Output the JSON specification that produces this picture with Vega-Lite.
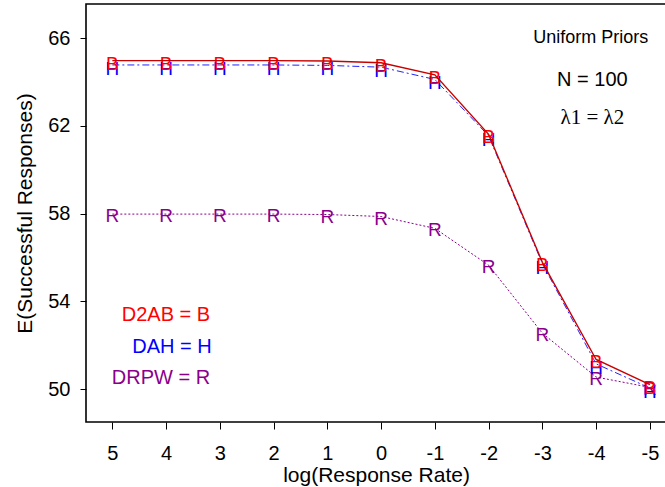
{
  "$schema": "https://vega.github.io/schema/vega-lite/v6.json",
  "autosize": "none",
  "width": 580,
  "height": 418,
  "padding": {"left": 86, "top": 4, "right": 0, "bottom": 65},
  "background": "white",
  "config": {
    "view": {"stroke": "black", "strokeWidth": 1.6},
    "axis": {
      "domain": false, "grid": false,
      "labelFont": "Liberation Sans", "labelFontSize": 20, "labelColor": "black",
      "titleFont": "Liberation Sans", "titleFontSize": 21, "titleFontWeight": "normal", "titleColor": "black",
      "tickColor": "black", "tickWidth": 1
    }
  },
  "datasets": {
    "series": [
      {"rate": 5, "value": 64.98, "s": "B"}, {"rate": 4, "value": 64.98, "s": "B"}, {"rate": 3, "value": 64.98, "s": "B"}, {"rate": 2, "value": 64.98, "s": "B"}, {"rate": 1, "value": 64.96, "s": "B"}, {"rate": 0, "value": 64.88, "s": "B"}, {"rate": -1, "value": 64.33, "s": "B"}, {"rate": -2, "value": 61.62, "s": "B"}, {"rate": -3, "value": 55.78, "s": "B"}, {"rate": -4, "value": 51.35, "s": "B"}, {"rate": -5, "value": 50.2, "s": "B"},
      {"rate": 5, "value": 64.78, "s": "H"}, {"rate": 4, "value": 64.78, "s": "H"}, {"rate": 3, "value": 64.78, "s": "H"}, {"rate": 2, "value": 64.78, "s": "H"}, {"rate": 1, "value": 64.76, "s": "H"}, {"rate": 0, "value": 64.68, "s": "H"}, {"rate": -1, "value": 64.12, "s": "H"}, {"rate": -2, "value": 61.55, "s": "H"}, {"rate": -3, "value": 55.72, "s": "H"}, {"rate": -4, "value": 51.15, "s": "H"}, {"rate": -5, "value": 50.05, "s": "H"},
      {"rate": 5, "value": 57.98, "s": "R"}, {"rate": 4, "value": 57.98, "s": "R"}, {"rate": 3, "value": 57.98, "s": "R"}, {"rate": 2, "value": 57.98, "s": "R"}, {"rate": 1, "value": 57.96, "s": "R"}, {"rate": 0, "value": 57.87, "s": "R"}, {"rate": -1, "value": 57.33, "s": "R"}, {"rate": -2, "value": 55.65, "s": "R"}, {"rate": -3, "value": 52.55, "s": "R"}, {"rate": -4, "value": 50.55, "s": "R"}, {"rate": -5, "value": 50.08, "s": "R"}
    ],
    "notes": [
      {"rate": -3.9, "value": 66.0, "label": "Uniform Priors", "kind": "a"},
      {"rate": -3.93, "value": 64.1, "label": "N = 100", "kind": "b"},
      {"rate": -3.93, "value": 62.37, "label": "λ1 = λ2", "kind": "c"}
    ],
    "legend": [
      {"rate": 3.18, "value": 53.4, "label": "D2AB = B", "s": "B"},
      {"rate": 3.15, "value": 51.94, "label": "DAH = H", "s": "H"},
      {"rate": 3.18, "value": 50.5, "label": "DRPW = R", "s": "R"}
    ]
  },
  "encoding": {
    "x": {"field": "rate", "type": "quantitative",
      "scale": {"domain": [-5.3, 5.49], "reverse": true, "nice": false, "zero": false},
      "axis": {"values": [5, 4, 3, 2, 1, 0, -1, -2, -3, -4, -5], "title": "log(Response Rate)", "tickSize": 7, "labelPadding": 14, "titlePadding": 1, "labelFlush": false,
        "labelExpr": "'' + datum.value"}},
    "y": {"field": "value", "type": "quantitative",
      "scale": {"domain": [48.5, 67.56], "nice": false, "zero": false},
      "axis": {"values": [50, 54, 58, 62, 66], "title": "E(Successful Responses)", "tickSize": 6, "labelPadding": 10, "titlePadding": 12, "labelFlush": false}}
  },
  "layer": [
    {"data": {"name": "series"}, "transform": [{"filter": "datum.s == 'R'"}],
     "mark": {"type": "line", "color": "#8B008B", "strokeWidth": 1, "strokeDash": [2, 2], "clip": true}},
    {"data": {"name": "series"}, "transform": [{"filter": "datum.s == 'R'"}],
     "mark": {"type": "text", "color": "#8B008B", "fontSize": 19, "font": "Liberation Sans", "baseline": "middle", "dy": 2},
     "encoding": {"text": {"field": "s"}}},
    {"data": {"name": "series"}, "transform": [{"filter": "datum.s == 'H'"}],
     "mark": {"type": "line", "color": "#2222FF", "strokeWidth": 1, "strokeDash": [7, 3, 2, 3], "clip": true}},
    {"data": {"name": "series"}, "transform": [{"filter": "datum.s == 'H'"}],
     "mark": {"type": "text", "color": "#0000FF", "fontSize": 19, "font": "Liberation Sans", "baseline": "middle", "dy": 4},
     "encoding": {"text": {"field": "s"}}},
    {"data": {"name": "series"}, "transform": [{"filter": "datum.s == 'B'"}],
     "mark": {"type": "text", "color": "#FF0000", "fontSize": 19, "font": "Liberation Sans", "baseline": "middle", "dy": 3},
     "encoding": {"text": {"field": "s"}}},
    {"data": {"name": "series"}, "transform": [{"filter": "datum.s == 'B'"}],
     "mark": {"type": "line", "color": "#C80000", "strokeWidth": 1.4, "clip": true}},
    {"data": {"name": "legend"},
     "mark": {"type": "text", "align": "right", "baseline": "middle", "fontSize": 20, "font": "Liberation Sans"},
     "encoding": {"text": {"field": "label"},
       "color": {"field": "s", "type": "nominal", "scale": {"domain": ["B", "H", "R"], "range": ["#FF0000", "#0000FF", "#8B008B"]}, "legend": null}}},
    {"data": {"name": "notes"}, "transform": [{"filter": "datum.kind != 'c'"}],
     "mark": {"type": "text", "align": "center", "baseline": "middle", "font": "Liberation Sans", "color": "black"},
     "encoding": {"text": {"field": "label"},
       "size": {"field": "kind", "type": "nominal", "scale": {"domain": ["a", "b"], "range": [18, 20]}, "legend": null}}},
    {"data": {"name": "notes"}, "transform": [{"filter": "datum.kind == 'c'"}],
     "mark": {"type": "text", "align": "center", "baseline": "middle", "font": "Liberation Serif", "fontSize": 21, "color": "black"},
     "encoding": {"text": {"field": "label"}}}
  ]
}
